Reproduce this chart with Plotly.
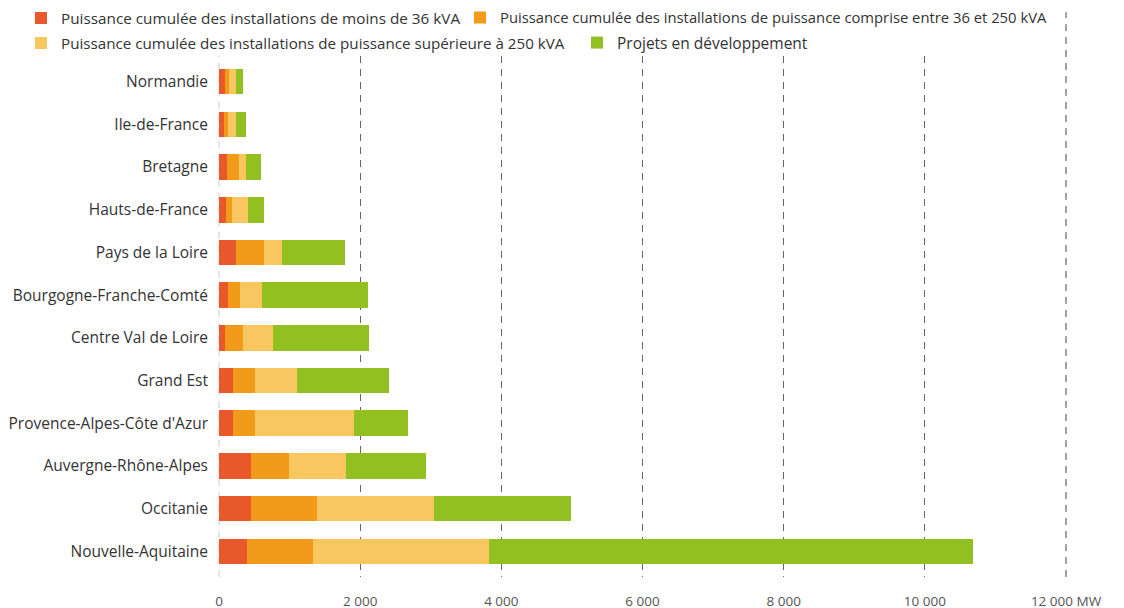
import plotly.graph_objects as go

regions = ["Normandie", "Ile-de-France", "Bretagne", "Hauts-de-France", "Pays de la Loire",
           "Bourgogne-Franche-Comté", "Centre Val de Loire", "Grand Est",
           "Provence-Alpes-Côte d'Azur", "Auvergne-Rhône-Alpes", "Occitanie", "Nouvelle-Aquitaine"]

moins_36 = [85, 71, 118, 99, 241, 127, 85, 198, 198, 452, 455, 390]
entre_36_250 = [61, 52, 165, 80, 396, 175, 255, 316, 307, 543, 932, 940]
sup_250 = [94, 117, 94, 231, 250, 311, 424, 590, 1401, 806, 1665, 2490]
projets = [104, 146, 217, 227, 896, 1491, 1354, 1302, 773, 1130, 1940, 6865]

series_names = [
    "Puissance cumulée des installations de moins de 36 kVA",
    "Puissance cumulée des installations de puissance comprise entre 36 et 250 kVA",
    "Puissance cumulée des installations de puissance supérieure à 250 kVA",
    "Projets en développement",
]
series_values = [moins_36, entre_36_250, sup_250, projets]
colors = ["#E8582A", "#F29B1A", "#F9C660", "#92C020"]

tick_vals = [0, 2000, 4000, 6000, 8000, 10000, 12000]
tick_text = ["0", "2 000", "4 000", "6 000", "8 000", "10 000", "12 000 MW"]

font_family = "Open Sans, Noto Sans, sans-serif"

# the page adds an 8px body margin, so the figure is 8px smaller than the window
W, H = 1116, 600
# legend item anchor positions (figure pixels): (left x, centre y)
legend_pos = [(13, 10), (452, 10), (13, 35), (569, 35)]
legend_keys = ["legend", "legend2", "legend3", "legend4"]
legend_sizes = [15.3, 14.8, 15.2, 15.5]

fig = go.Figure()
for name, vals, col, lk in zip(series_names, series_values, colors, legend_keys):
    fig.add_trace(go.Bar(
        y=regions, x=vals, name=name, orientation="h",
        marker=dict(color=col, line=dict(width=0)),
        legend=lk, showlegend=True,
    ))

legend_layout = {}
for lk, (px, py), fs in zip(legend_keys, legend_pos, legend_sizes):
    legend_layout[lk] = dict(
        orientation="h", xref="container", yref="container",
        x=px / W, y=1 - py / H, xanchor="left", yanchor="middle",
        font=dict(size=fs, color="#333333"),
        itemwidth=30, bgcolor="rgba(0,0,0,0)", visible=True,
    )

fig.update_layout(
    barmode="stack",
    width=W, height=H,
    showlegend=True,
    margin=dict(l=211, r=58, t=48, b=31, autoexpand=False),
    plot_bgcolor="white", paper_bgcolor="white",
    bargap=0.4,
    font=dict(family=font_family, size=14, color="#333333"),
    xaxis=dict(
        range=[0, 12000], tickvals=tick_vals, ticktext=tick_text,
        showgrid=True, gridcolor="#666666", griddash="7px,6px", gridwidth=1,
        zeroline=False, showline=False, ticks="",
        tickfont=dict(size=13.5, color="#555555"),
        ticklabelstandoff=14,
    ),
    yaxis=dict(
        categoryorder="array", categoryarray=regions,
        range=[11.6, -0.6],
        showgrid=False, zeroline=False, showline=False, ticks="",
        tickfont=dict(size=15.5, color="#333333"),
        ticklabelstandoff=10,
    ),
    shapes=[
        dict(type="line", xref="paper", yref="paper", x0=1, x1=1, y0=0, y1=1.084,
             line=dict(color="#444444", width=1, dash="7px,6px")),
        dict(type="line", xref="paper", yref="paper", x0=0, x1=0, y0=0, y1=1,
             line=dict(color="#cccccc", width=1, dash="7px,6px"), layer="below"),
    ],
    **legend_layout,
)

fig.write_html("out.html")
